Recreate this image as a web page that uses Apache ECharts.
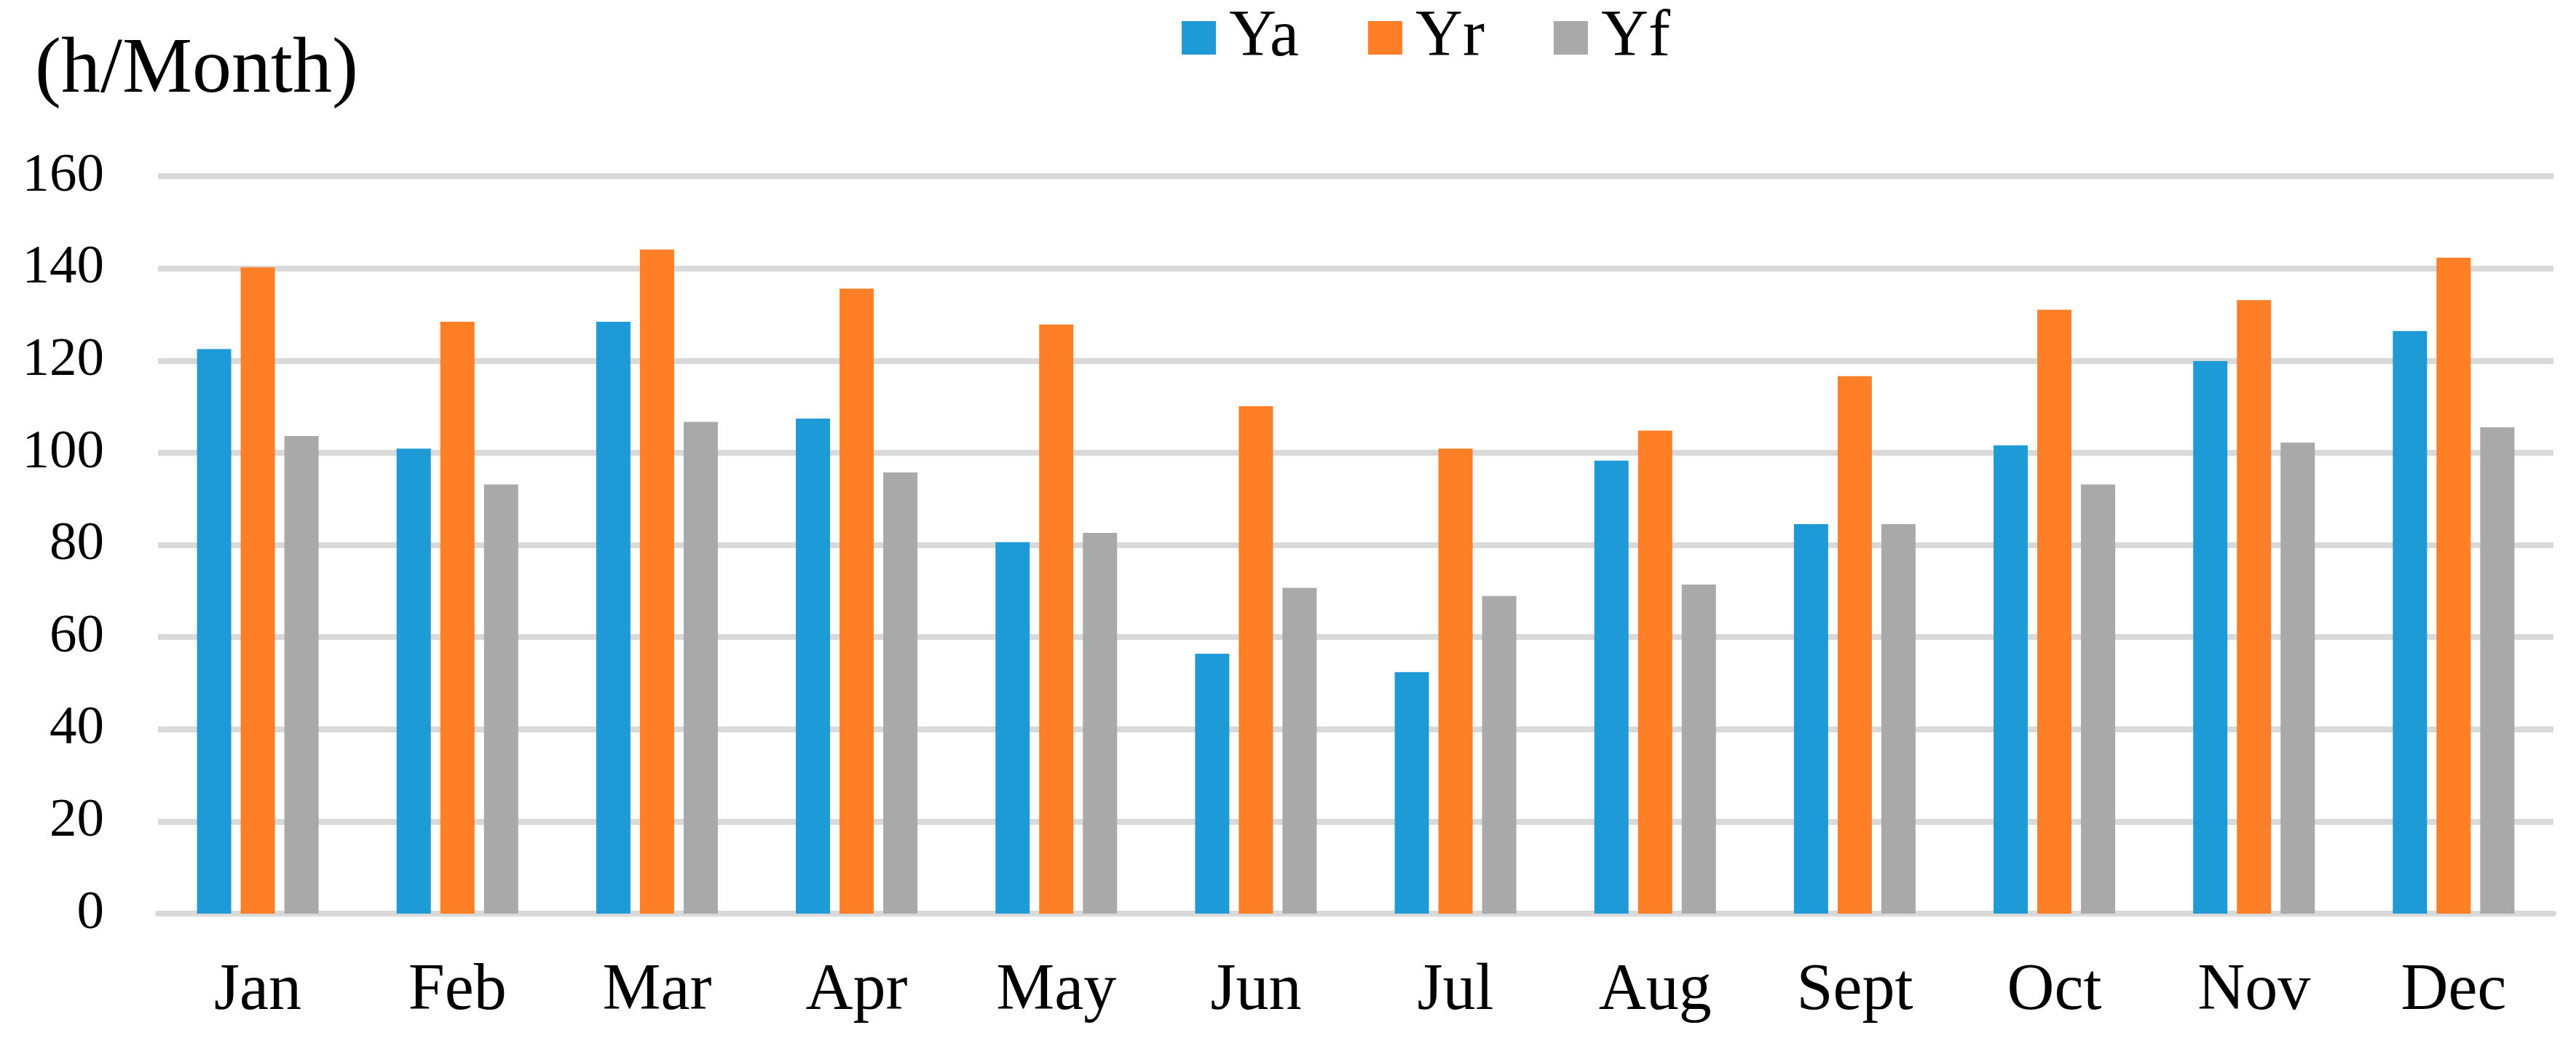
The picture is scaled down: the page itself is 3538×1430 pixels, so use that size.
<!DOCTYPE html>
<html>
<head>
<meta charset="utf-8">
<script src="https://cdn.jsdelivr.net/npm/echarts@6/dist/echarts.min.js"></script>
<style>
html,body{margin:0;padding:0;background:#fff;}
#chart{width:3538px;height:1430px;}
</style>
</head>
<body>
<div id="chart"></div>
<script>
const months = ['Jan','Feb','Mar','Apr','May','Jun','Jul','Aug','Sept','Oct','Nov','Dec'];
const Ya = [122.5, 100.9, 128.4, 107.4, 80.6, 56.4, 52.4, 98.3, 84.5, 101.6, 119.9, 126.4];
const Yr = [140.2, 128.4, 144.1, 135.6, 127.8, 110.1, 100.9, 104.8, 116.6, 131.0, 133.1, 142.3];
const Yf = [103.6, 93.1, 106.7, 95.7, 82.6, 70.7, 68.9, 71.4, 84.5, 93.1, 102.2, 105.5];
const seriesNames = ['Ya','Yr','Yf'];
const colors = ['#1E9BD7','#FF7F27','#A9A9A9'];
const unitLabel = '(h/Month)';

const FONT = "'Liberation Serif','Times New Roman',serif";
const chart = echarts.init(document.getElementById('chart'));
const mk = (name, data, i) => ({
  name: name, type: 'bar', data: data,
  barWidth: 47, barGap: '27.7%',
  itemStyle: { color: colors[i] }
});
chart.setOption({
  animation: false,
  backgroundColor: '#fff',
  title: {
    text: unitLabel, left: 48, top: 44, padding: 0,
    textStyle: { fontFamily: FONT, fontSize: 108, fontWeight: 'normal', color: '#000' }
  },
  legend: {
    data: seriesNames, left: 1623, top: 7, padding: 0,
    icon: 'rect', itemWidth: 47, itemHeight: 46, itemGap: 95,
    textStyle: { fontFamily: FONT, fontSize: 90, color: '#000', padding: [0,0,0,13] }
  },
  grid: { left: 217, right: 31, top: 242, bottom: 175, containLabel: false },
  xAxis: {
    type: 'category', data: months,
    axisLine: { show: true, lineStyle: { color: '#D9D9D9', width: 8 } },
    axisTick: { show: false },
    axisLabel: { fontFamily: FONT, fontSize: 90, color: '#000', margin: 62 }
  },
  yAxis: {
    type: 'value', min: 0, max: 160, interval: 20,
    axisLine: { show: false }, axisTick: { show: false },
    splitLine: { lineStyle: { color: '#D9D9D9', width: 8 } },
    axisLabel: { fontFamily: FONT, fontSize: 75, color: '#000', margin: 74 }
  },
  series: [mk('Ya', Ya, 0), mk('Yr', Yr, 1), mk('Yf', Yf, 2)]
});
</script>
</body>
</html>
